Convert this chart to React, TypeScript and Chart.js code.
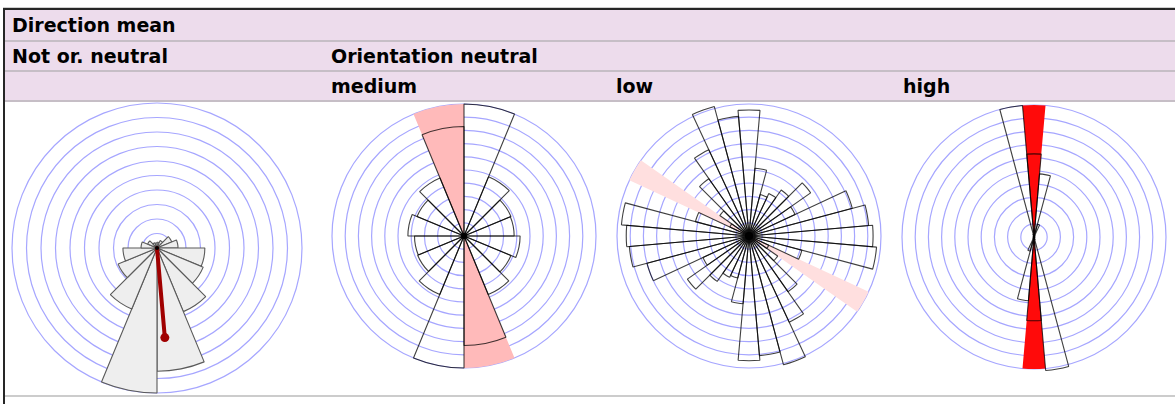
import React, { useEffect, useRef } from 'react';
import { Chart, registerables } from 'chart.js';

Chart.register(...registerables);

// ---------- data ----------
const sectors16 = ['0°', '22.5°', '45°', '67.5°', '90°', '112.5°', '135°', '157.5°', '180°', '202.5°', '225°', '247.5°', '270°', '292.5°', '315°', '337.5°'];
const sectors36 = ['0°', '10°', '20°', '30°', '40°', '50°', '60°', '70°', '80°', '90°', '100°', '110°', '120°', '130°', '140°', '150°', '160°', '170°', '180°', '190°', '200°', '210°', '220°', '230°', '240°', '250°', '260°', '270°', '280°', '290°', '300°', '310°', '320°', '330°', '340°', '350°'];

// Not oriented, neutral (direction data, 22.5° sectors)
const notOrientedValues = [0.4, 0.55, 1.1, 1.45, 3.3, 3.45, 4.75, 8.5, 10, 4.55, 2.9, 2.35, 1.1, 0.7, 0.4, 0.35];
const meanDirectionDeg = 175;
const meanResultant = 6.2;

// Orientation neutral – medium (22.5° sectors)
const mediumValues = [10, 4.85, 3.85, 3.8, 4.25, 3.85, 4.8, 8.3, 10, 4.8, 3.8, 3.75, 4.25, 3.85, 4.75, 8.3];
const mediumHighlight = [0, 0, 0, 0, 0, 0, 0, 10, 0, 0, 0, 0, 0, 0, 0, 10];

// Orientation neutral – low (10° sectors centred on multiples of 10°)
const lowValues = [9.55, 5.15, 3.25, 3.55, 4.25, 5.7, 3.85, 8.1, 9.1, 9.4, 9.7, 4.15, 1.65, 2.65, 5.15, 7.2, 10.1, 9.1, 9.45, 5.15, 3.3, 3.45, 4.2, 5.7, 3.85, 8.0, 9.1, 9.3, 9.7, 4.2, 1.6, 2.7, 5.3, 7.2, 10.15, 9.1];
const lowHighlight = [0, 0, 0, 0, 0, 0, 0, 0, 0, 0, 0, 0, 10, 0, 0, 0, 0, 0, 0, 0, 0, 0, 0, 0, 0, 0, 0, 0, 0, 0, 10, 0, 0, 0, 0, 0];

// Orientation neutral – high (10° sectors)
const highValues = [6.3, 4.8, 1.0, 0.15, 0, 0, 0, 0, 0, 0, 0, 0, 0, 0, 0, 0, 0.2, 10.15, 6.35, 4.85, 1.1, 0.15, 0, 0, 0, 0, 0, 0, 0, 0, 0, 0, 0, 0, 0.2, 10];
const highHighlight = [10, 0, 0, 0, 0, 0, 0, 0, 0, 0, 0, 0, 0, 0, 0, 0, 0, 0, 10, 0, 0, 0, 0, 0, 0, 0, 0, 0, 0, 0, 0, 0, 0, 0, 0, 0];

const headerTitle = 'Direction mean';
const groupLabels = ['Not or. neutral', 'Orientation neutral'];
const levelLabels = ['medium', 'low', 'high'];

// ---------- styling ----------
const PAD = 4;
const RING = '#a6a6ff';
const LAVENDER = '#eddcec';
const SEP = '#c6bec6';
const FONT = '"DejaVu Sans", Verdana, sans-serif';

const roseExtras = {
  id: 'roseExtras',
  afterDatasetsDraw(chart: any, _args: any, opts: any) {
    const scale = chart.scales.r;
    const ctx = chart.ctx;
    const cx = scale.xCenter;
    const cy = scale.yCenter;
    ctx.save();
    if (opts && opts.meanLength) {
      const r = scale.getDistanceFromCenterForValue(opts.meanLength);
      const a = (opts.meanAngle * Math.PI) / 180;
      const x = cx + r * Math.sin(a);
      const y = cy - r * Math.cos(a);
      ctx.strokeStyle = opts.meanColor;
      ctx.lineWidth = 4;
      ctx.lineCap = 'round';
      ctx.beginPath();
      ctx.moveTo(cx, cy);
      ctx.lineTo(x, y);
      ctx.stroke();
      ctx.fillStyle = opts.meanColor;
      ctx.beginPath();
      ctx.arc(x, y, 4.5, 0, Math.PI * 2);
      ctx.fill();
    }
    if (opts && opts.dot) {
      ctx.fillStyle = '#000';
      ctx.beginPath();
      ctx.arc(cx, cy, opts.dot, 0, Math.PI * 2);
      ctx.fill();
    }
    ctx.restore();
  },
};

type RoseProps = {
  left: number;
  top: number;
  radius: number;
  labels: string[];
  values: number[];
  highlight?: number[];
  highlightColor?: string;
  fill: string;
  stroke: string;
  startAngle: number;
  extras: any;
};

function Rose(props: RoseProps) {
  const ref = useRef<HTMLCanvasElement | null>(null);
  const size = props.radius * 2 + PAD * 2;
  useEffect(() => {
    const datasets: any[] = [
      {
        label: 'bars',
        data: props.values,
        backgroundColor: props.fill,
        borderColor: props.stroke,
        borderWidth: 1.1,
        order: 0,
      },
    ];
    if (props.highlight) {
      datasets.push({
        label: 'mean',
        data: props.highlight,
        backgroundColor: props.highlightColor,
        borderColor: props.highlightColor,
        borderWidth: 0,
        order: 1,
      });
    }
    const chart = new Chart(ref.current as HTMLCanvasElement, {
      type: 'polarArea',
      data: { labels: props.labels, datasets },
      options: {
        responsive: false,
        animation: false,
        devicePixelRatio: 1,
        layout: { padding: PAD },
        events: [],
        plugins: {
          legend: { display: false },
          tooltip: { enabled: false },
          roseExtras: props.extras,
        } as any,
        scales: {
          r: {
            min: 0,
            max: 10,
            startAngle: props.startAngle,
            ticks: { display: false, stepSize: 1 },
            grid: { circular: true, color: RING, lineWidth: 1.2 },
            angleLines: { display: false },
            pointLabels: { display: false },
          },
        } as any,
      },
      plugins: [roseExtras as any],
    });
    return () => chart.destroy();
  }, []);
  return (
    <canvas
      ref={ref}
      width={size}
      height={size}
      style={{ position: 'absolute', left: props.left, top: props.top, width: size, height: size }}
    />
  );
}

const textStyle = (left: number, top: number): React.CSSProperties => ({
  position: 'absolute',
  left,
  top,
  fontFamily: FONT,
  fontWeight: 'bold',
  fontSize: '19px',
  lineHeight: '19px',
  whiteSpace: 'nowrap',
  color: '#000',
});

const box = (left: number, top: number, width: number, height: number, bg: string): React.CSSProperties => ({
  position: 'absolute',
  left,
  top,
  width,
  height,
  background: bg,
});

export default function App() {
  return (
    <div style={{ position: 'absolute', left: 0, top: 0, width: 1175, height: 404, overflow: 'hidden', background: '#fff' }}>
      <div style={box(5, 10, 1170, 91, LAVENDER)} />
      <div style={box(3, 7, 1172, 1, '#cfcfcf')} />
      <div style={box(3, 8, 1172, 2, '#262626')} />
      <div style={box(3, 8, 2, 396, '#262626')} />
      <div style={box(5, 40, 1170, 2, SEP)} />
      <div style={box(5, 70, 1170, 2, SEP)} />
      <div style={box(5, 100, 1170, 2, SEP)} />
      <div style={box(5, 395, 1170, 2, '#cccccc')} />

      <div style={textStyle(12, 16)}>{headerTitle}</div>
      <div style={textStyle(12, 46.5)}>{groupLabels[0]}</div>
      <div style={textStyle(331, 46.5)}>{groupLabels[1]}</div>
      <div style={textStyle(331, 77)}>{levelLabels[0]}</div>
      <div style={textStyle(616, 77)}>{levelLabels[1]}</div>
      <div style={textStyle(903, 77)}>{levelLabels[2]}</div>

      <Rose
        left={8}
        top={99}
        radius={145}
        labels={sectors16}
        values={notOrientedValues}
        fill="#eeeeee"
        stroke="#5a5a5a"
        startAngle={0}
        extras={{ meanAngle: meanDirectionDeg, meanLength: meanResultant, meanColor: '#a00000', dot: 2 }}
      />
      <Rose
        left={328}
        top={100}
        radius={132}
        labels={sectors16}
        values={mediumValues}
        highlight={mediumHighlight}
        highlightColor="#ffbaba"
        fill="rgba(0,0,0,0)"
        stroke="rgba(0,0,0,0.75)"
        startAngle={0}
        extras={{ dot: 3 }}
      />
      <Rose
        left={613}
        top={100}
        radius={132}
        labels={sectors36}
        values={lowValues}
        highlight={lowHighlight}
        highlightColor="#ffdfdf"
        fill="rgba(0,0,0,0)"
        stroke="rgba(0,0,0,0.75)"
        startAngle={-5}
        extras={{ dot: 4 }}
      />
      <Rose
        left={898}
        top={101}
        radius={132}
        labels={sectors36}
        values={highValues}
        highlight={highHighlight}
        highlightColor="#ff0a0a"
        fill="rgba(0,0,0,0)"
        stroke="rgba(0,0,0,0.75)"
        startAngle={-5}
        extras={{ dot: 1.5 }}
      />
    </div>
  );
}
